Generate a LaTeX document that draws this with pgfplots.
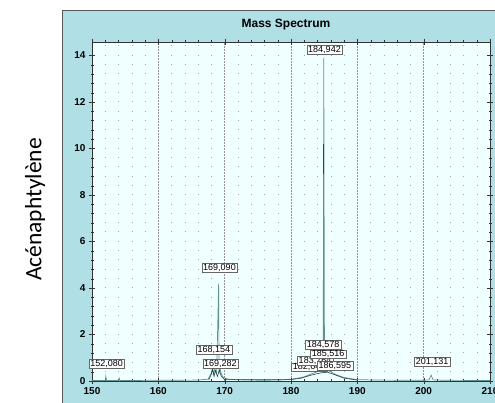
\documentclass[border=0pt]{standalone}
\usepackage{fontspec}
\setmainfont{Liberation Sans}
\newfontfamily\calibri{Carlito}
\usepackage{pgfplots}
\pgfplotsset{compat=1.18}
\definecolor{panel}{RGB}{176,223,229}
\definecolor{plotbg}{RGB}{240,255,255}
\definecolor{spec}{RGB}{100,145,142}
\definecolor{specdark}{RGB}{30,72,66}
\begin{document}
\begin{tikzpicture}[x=1pt,y=1pt]
\useasboundingbox (0,0) rectangle (495,403);
\fill[panel] (62,0) rectangle (495,393);
\draw[black!65, line width=0.9pt] (62,0) -- (62,393) -- (495,393);
\node[font=\bfseries\fontsize{12}{14}\selectfont] at (286,378) {Mass Spectrum};
\node[rotate=90, font=\calibri\fontsize{23.5}{26}\selectfont] at (35,193.5) {Acénaphtylène};
\begin{axis}[at={(92pt,22pt)}, anchor=south west, scale only axis,
  width=398pt, height=339pt,
  xmin=150, xmax=210, ymin=0, ymax=14.58,
  axis background/.style={fill=plotbg},
  axis line style={black!80},
  xtick={150,160,...,210}, ytick={0,2,...,14},
  minor x tick num=4, minor y tick num=4,
  tick align=center, tick style={black!80},
  major tick length=6pt, minor tick length=3pt,
  xmajorgrids, xminorgrids,
  major grid style={black!42, dash pattern=on 0.7pt off 0.8pt},
  minor grid style={black!35, dash pattern=on 0.7pt off 8.6pt},
  tick label style={font=\bfseries\fontsize{10}{12}\selectfont},
  /pgf/number format/assume math mode=true,
  clip mode=individual,
]
\addplot[spec, line width=0.7pt] coordinates {
(150,0.02) (152.0,0.02) (152.08,0.2) (152.2,0.02) (154.0,0.02) (154.1,0.12) (154.2,0.02)
(160,0.03) (166,0.04) (167.5,0.08) (168.0,0.35) (168.154,0.6) (168.3,0.3) (168.5,0.5)
(168.8,0.35) (169.09,4.2) (169.15,0.4) (169.282,0.55) (169.5,0.3) (169.8,0.15) (170.5,0.08)
(172,0.05) (176,0.03) (179,0.05) (180,0.08) (181,0.12) (182,0.18) (182.6,0.25) (183,0.3)
(183.5,0.35) (184,0.4) (184.578,0.5) (184.85,0.5) (184.942,13.9) (185.05,0.5) (185.516,0.45)
(186,0.4) (186.595,0.3) (187,0.25) (188,0.15) (189,0.1) (190,0.06) (193,0.04) (200,0.03)
(200.8,0.05) (201.131,0.25) (201.4,0.05) (203,0.03) (210,0.02)
};
\addplot[spec, line width=1.3pt] coordinates {(184.95,0.4) (184.95,8.9)};
\addplot[specdark, line width=0.7pt] coordinates {(184.93,8.9) (184.93,10.2)};
\addplot[specdark, line width=0.6pt] coordinates {
(167.6,0.05) (168.0,0.3) (168.2,0.5) (168.4,0.2) (168.6,0.45) (168.9,0.2) (169.2,0.45) (169.5,0.2) (170,0.06)
(180,0.06) (181.5,0.12) (183,0.25) (184.5,0.35) (185.5,0.38) (186.5,0.28) (188,0.12) (190,0.04)
};
\begin{scope}[every node/.style={draw=black!60, fill=white, inner xsep=1.5pt, inner ysep=0.6pt, font=\fontsize{9}{10}\selectfont}]
\node at (axis cs:152.19,0.75) {152,080};
\node at (axis cs:168.39,1.35) {168,154};
\node at (axis cs:169.37,0.75) {169,282};
\node at (axis cs:169.22,4.88) {169,090};
\node at (axis cs:185.05,14.24) {184,942};
\node at (axis cs:182.72,0.60) {182,647};
\node at (axis cs:183.62,0.86) {183,764};
\node at (axis cs:186.63,0.65) {186,595};
\node at (axis cs:185.58,1.16) {185,516};
\node at (axis cs:184.83,1.55) {184,578};
\node at (axis cs:201.26,0.82) {201,131};
\end{scope}
\end{axis}
\end{tikzpicture}
\end{document}
